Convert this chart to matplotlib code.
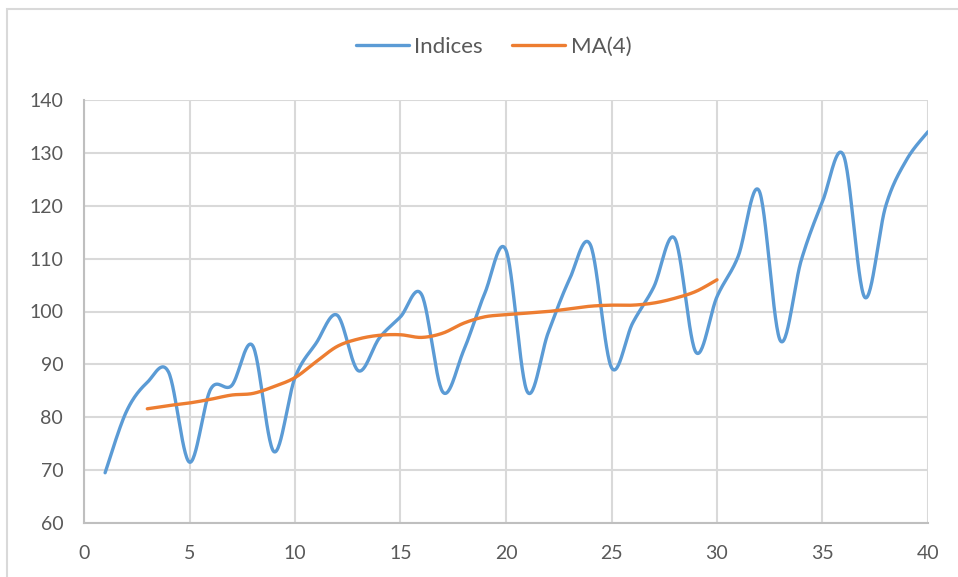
import numpy as np
import matplotlib
matplotlib.use("Agg")
import matplotlib.pyplot as plt
from matplotlib.patches import Rectangle

plt.rcParams['font.family'] = ['Lato', 'DejaVu Sans']

# --- data ---
idx_x = list(range(1, 41))
indices = [69.5, 81, 86.6, 88.6, 71.5, 85.3, 86, 93.5, 73.5, 87.5,
           94, 99.3, 88.8, 95, 99, 103.2, 84.8, 92.7, 103.5, 111.6,
           84.9, 96, 106, 112.6, 89.4, 97.8, 104.6, 113.8, 92.3, 102.8,
           110.4, 122.8, 94.5, 109.8, 120.8, 129.5, 102.7, 120, 128.8, 134]

ma_x = list(range(3, 31))
ma4 = [81.6, 82.2, 82.7, 83.4, 84.2, 84.5, 85.8, 87.5, 90.5, 93.4,
       94.8, 95.5, 95.6, 95.1, 95.9, 97.8, 99.0, 99.4, 99.7, 100.0,
       100.5, 101.0, 101.2, 101.2, 101.6, 102.5, 103.8, 106.0]


def smooth(xs, ys, n=30):
    # Excel-style smoothed line (Bezier through the data points)
    p = np.column_stack([xs, ys]).astype(float)
    p = np.vstack([p[0], p, p[-1]])
    out = []
    t = np.linspace(0, 1, n, endpoint=False)[:, None]
    for i in range(1, len(p) - 2):
        p0, p1, p2, p3 = p[i - 1], p[i], p[i + 1], p[i + 2]
        c1 = p1 + (p2 - p0) / 6
        c2 = p2 - (p3 - p1) / 6
        seg = ((1 - t) ** 3) * p1 + 3 * ((1 - t) ** 2) * t * c1 + 3 * (1 - t) * t ** 2 * c2 + t ** 3 * p2
        out.append(seg)
    out.append(p[-2][None, :])
    out = np.vstack(out)
    return out[:, 0], out[:, 1]


W, H = 958, 577
fig = plt.figure(figsize=(W / 100, H / 100), dpi=100)
# outer chart border
fig.patches.append(Rectangle((7 / W, -0.1), 1.2, 1 - 9 / H + 0.1, transform=fig.transFigure,
                             fill=False, edgecolor='#d9d9d9', linewidth=1.5))

ax = fig.add_axes([84 / W, 1 - 523 / H, (928 - 84) / W, (523 - 100) / H])

sx, sy = smooth(idx_x, indices)
ax.plot(sx, sy, color='#5b9bd5', linewidth=2.4, label='Indices', solid_capstyle='round')
mx, my = smooth(ma_x, ma4)
ax.plot(mx, my, color='#ed7d31', linewidth=2.4, label='MA(4)', solid_capstyle='round')

ax.set_xlim(0, 40)
ax.set_ylim(60, 140)
ax.set_xticks(range(0, 41, 5))
ax.set_yticks(range(60, 141, 10))
ax.grid(True, color='#d9d9d9', linewidth=1.5)
ax.set_axisbelow(True)
for s in ['top', 'right']:
    ax.spines[s].set_visible(False)
ax.spines['left'].set_color('#bfbfbf')
ax.spines['bottom'].set_color('#bfbfbf')
ax.spines['left'].set_linewidth(1.5)
ax.spines['bottom'].set_linewidth(1.5)
ax.tick_params(length=0, labelsize=14, colors='#595959')
ax.tick_params(axis='y', pad=15)
ax.tick_params(axis='x', pad=16)

fig.legend(loc='center', bbox_to_anchor=(493.5 / W, 1 - 47 / H), ncol=2,
           frameon=False, fontsize=16, labelcolor='#595959', handlelength=2.4,
           columnspacing=1.3, handletextpad=0.25)

fig.savefig('out.png', dpi=100)
